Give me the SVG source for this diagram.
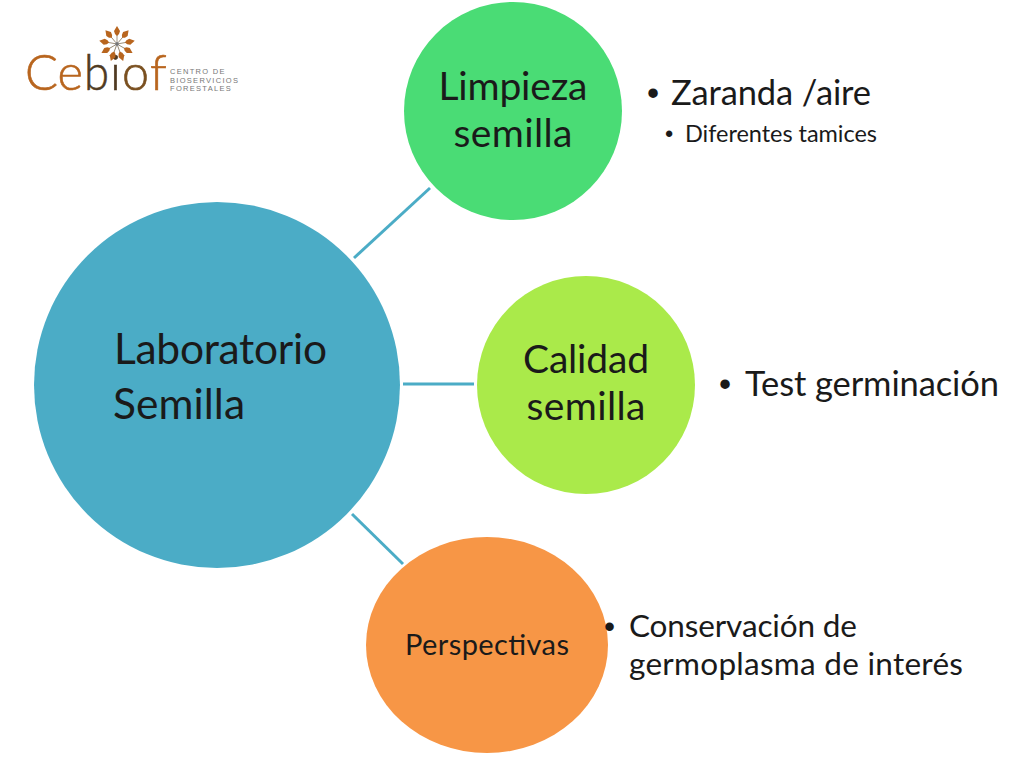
<svg xmlns="http://www.w3.org/2000/svg" width="1024" height="768" viewBox="0 0 1024 768">
<defs>
<g id="petal"><line x1="0" y1="-2" x2="0" y2="-9" stroke="#8a7a60" stroke-width="0.8"/><path d="M0,-18 L3,-13 L2,-10 L0,-8 L-2,-10 L-3,-13 Z" fill="#b8651e"/></g>
</defs>
<style>
text{font-family:Lato,"Open Sans","Liberation Sans",sans-serif;fill:#1a1a1a}
.d{font-family:"Liberation Sans",sans-serif}
.n{text-anchor:middle;font-size:39px}
.b{font-size:34.500px}
.s{font-size:23.500px}
.p{font-size:31.500px}
.c{stroke:#4bacc6;stroke-width:3;fill:none}
.logo{font-family:"Liberation Sans",sans-serif;font-size:7.500px;letter-spacing:1.300px;fill:#777}
.lg{font-family:Lato,"Liberation Sans",sans-serif;font-weight:300;font-size:49px;stroke-width:0.6px}
</style>
<rect width="1024" height="768" fill="#fff"/>
<g id="connectors">
<line class="c" x1="354" y1="258" x2="430" y2="188"/>
<line class="c" x1="403" y1="384" x2="474" y2="384"/>
<line class="c" x1="352" y1="514" x2="403" y2="564"/>
</g>
<g id="node-laboratorio">
<circle cx="217" cy="385" r="183" fill="#4bacc6"/>
<text x="114" y="364" font-size="42.500" textLength="213">Laboratorio</text>
<text x="113" y="419" font-size="42.500" textLength="132">Semilla</text>
</g>
<g id="node-limpieza">
<circle cx="513" cy="111" r="109" fill="#4adc75"/>
<text class="n" x="513" y="100" textLength="149">Limpieza</text>
<text class="n" x="513" y="147" textLength="119">semilla</text>
</g>
<g id="node-calidad">
<circle cx="586" cy="385" r="109" fill="#aaea4a"/>
<text class="n" x="586" y="373" textLength="126">Calidad</text>
<text class="n" x="586" y="420" textLength="119">semilla</text>
</g>
<g id="node-perspectivas">
<ellipse cx="487" cy="645" rx="121" ry="108" fill="#f79646"/>
<text x="487" y="655" text-anchor="middle" font-size="29" textLength="164">Perspectivas</text>
</g>
<g id="text-limpieza">
<text class="b d" x="647" y="105">•</text>
<text class="b" x="671" y="105" textLength="200">Zaranda /aire</text>
<text class="s d" x="665" y="142">•</text>
<text class="s" x="685" y="142" textLength="192">Diferentes tamices</text>
</g>
<g id="text-calidad">
<text class="b d" x="719" y="396">•</text>
<text class="b" x="745" y="396" textLength="254">Test germinación</text>
</g>
<g id="text-perspectivas">
<text class="p d" x="604" y="637">•</text>
<text class="p" x="629" y="637" textLength="228">Conservación de</text>
<text class="p" x="629" y="675" textLength="334">germoplasma de interés</text>
</g>
<g id="logo">
<text class="lg" x="25" y="90" style="fill:#b8651e;stroke:#b8651e" textLength="58" lengthAdjust="spacingAndGlyphs">Ce</text>
<text class="lg" x="84" y="90" style="fill:#4f3a22;stroke:#4f3a22" textLength="25" lengthAdjust="spacingAndGlyphs">b</text>
<text class="lg" x="110" y="90" style="fill:#4f3a22;stroke:#4f3a22">i</text>
<text class="lg" x="122" y="90" style="fill:#7a5020;stroke:#7a5020" textLength="27" lengthAdjust="spacingAndGlyphs">o</text>
<text class="lg" x="150" y="90" style="fill:#b8651e;stroke:#b8651e">f</text>
<use href="#petal" transform="translate(117,44)"/>
<use href="#petal" transform="translate(117,44) rotate(40)"/>
<use href="#petal" transform="translate(117,44) rotate(80)"/>
<use href="#petal" transform="translate(117,44) rotate(120)"/>
<use href="#petal" transform="translate(117,44) rotate(160)"/>
<use href="#petal" transform="translate(117,44) rotate(200)"/>
<use href="#petal" transform="translate(117,44) rotate(240)"/>
<use href="#petal" transform="translate(117,44) rotate(280)"/>
<use href="#petal" transform="translate(117,44) rotate(320)"/>
<circle cx="117" cy="44" r="2" fill="#777"/>
<text class="logo" x="170" y="74">CENTRO DE</text>
<text class="logo" x="170" y="82.500">BIOSERVICIOS</text>
<text class="logo" x="170" y="91">FORESTALES</text>
</g>
</svg>
